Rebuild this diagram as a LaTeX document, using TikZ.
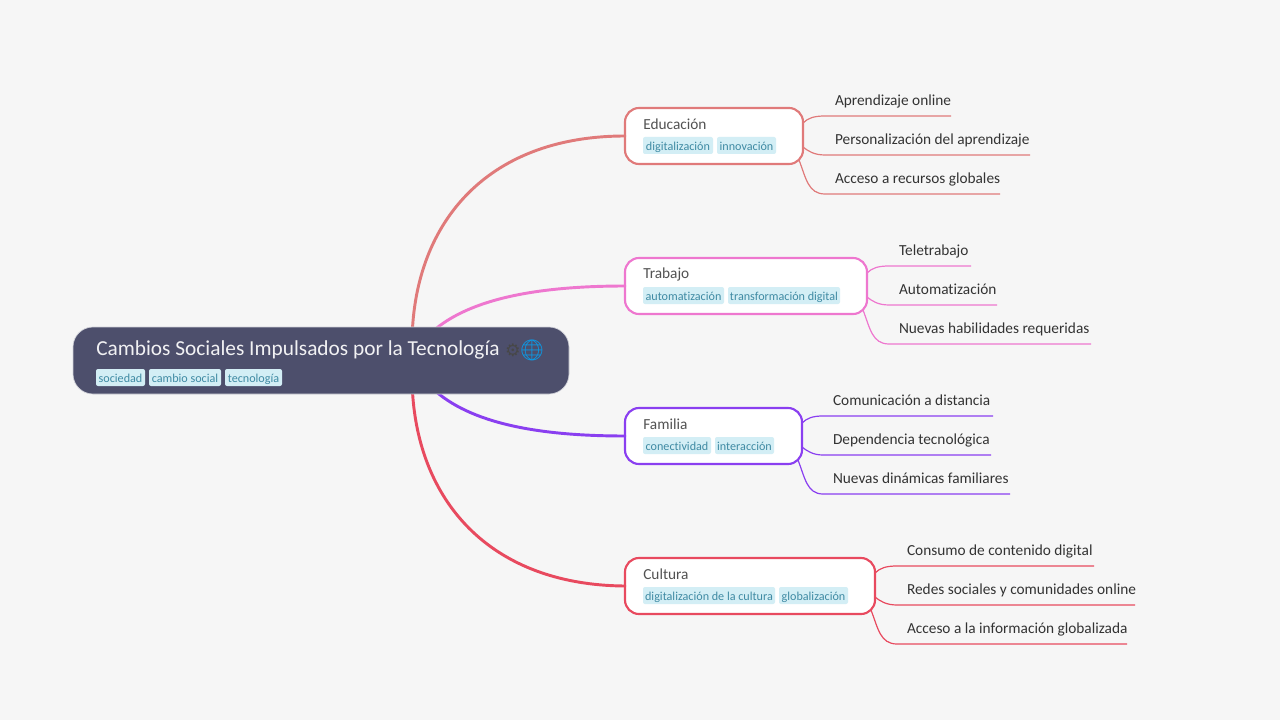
\documentclass[tikz,border=0pt]{standalone}
\usepackage{fontspec}
\setmainfont{Carlito}[Ligatures=NoCommon]
\newfontfamily\symfont{DejaVu Sans}
\newfontfamily\emojifont{Noto Emoji}
\usetikzlibrary{calc}
\definecolor{pagebg}{HTML}{F6F6F6}
\definecolor{rootfill}{HTML}{4D4F6C}
\definecolor{educol}{HTML}{E07A7A}
\definecolor{trabcol}{HTML}{EE77CF}
\definecolor{famcol}{HTML}{8A3FF0}
\definecolor{culcol}{HTML}{E84A5F}
\definecolor{tagfill}{HTML}{D3EEF5}
\definecolor{tagtext}{HTML}{3F8AA3}
\definecolor{globecol}{HTML}{0A9BE8}
\tikzset{
	rootbox/.style={draw=white!75!rootfill, line width=0.5pt, fill=rootfill, rounded corners=15pt, minimum width=372pt, minimum height=50.25pt, inner sep=0pt, outer sep=0pt, anchor=north west},
	topicbox/.style={draw=#1, line width=1.6pt, fill=white, rounded corners=10.5pt, minimum height=42pt, inner sep=0pt, outer sep=0pt, anchor=north west},
	topictext/.style={text=black!68, font=\fontsize{11.5pt}{13pt}\selectfont, inner sep=0pt, anchor=west},
	tagbox/.style={fill=tagfill, text=tagtext, font=\fontsize{9.1pt}{11pt}\selectfont, rounded corners=1.5pt, inner sep=0pt, outer sep=0pt, minimum height=12.75pt, text height=8pt, text depth=1.2pt, anchor=north west},
	leaftext/.style={text=black!80, font=\fontsize{11.5pt}{13pt}\selectfont, inner sep=0pt, inner xsep=7.5pt, outer sep=0pt, minimum height=21pt, text height=8pt, text depth=2.5pt, anchor=south west},
	mainlink/.style={line width=#1, line cap=round},
	leaflink/.style={line width=0.9pt}
}
% leaf: name, corner, width, text
\def\leaf[#1](#2)(#3)(#4)#5;{\node[leaftext] (#2) at (#3) {\makebox[\dimexpr#4pt-15pt\relax][l]{#5}};}
% link from a topic box to the underline of a leaf
\def\leaflink[#1](#2)(#3)(#4)(#5){\draw[leaflink, #1] (#2) .. controls (#3) and (#4) .. (#5.south west) -- (#5.south east);}
\begin{document}
\begin{tikzpicture}[x=0.75pt, y=-0.75pt]
	%%%%% START %%%%%
	\fill[pagebg] (0, 0) rectangle (1280, 720);
	\useasboundingbox (0, 0) rectangle (1280, 720);

	\coordinate (hubup) at (412, 345);
	\coordinate (hubdown) at (412, 375);
	\coordinate (trabout) at (432, 332);
	\coordinate (famout) at (432, 388);

	% topic boxes
	\node[topicbox=educol, minimum width=133.5pt] (edu) at (625, 108) {};
	\node[topicbox=trabcol, minimum width=181.5pt] (trab) at (625, 258) {};
	\node[topicbox=famcol, minimum width=132.75pt] (fam) at (625, 408) {};
	\node[topicbox=culcol, minimum width=187.5pt] (cul) at (625, 558) {};

	% main branches
	\draw[mainlink=2.2pt, educol] (hubup) .. controls (412, 225) and (485, 136) .. (edu.west);
	\draw[mainlink=2.2pt, trabcol] (trabout) .. controls (470, 298) and (540, 286) .. (trab.west);
	\draw[mainlink=2.2pt, famcol] (famout) .. controls (470, 424) and (540, 436) .. (fam.west);
	\draw[mainlink=2.2pt, culcol] (hubdown) .. controls (412, 495) and (485, 585) .. (cul.west);

	% root
	\node[rootbox] (root) at (73, 327) {};
	\node[text=white!92!rootfill, font=\fontsize{16pt}{18pt}\selectfont, inner sep=0pt, anchor=west] (roottitle) at (96, 350) {Cambios Sociales Impulsados por la Tecnología};
	\node[text=black!72, font=\symfont\fontsize{13pt}{15pt}\selectfont, inner sep=0pt] (rootgear) at (513, 350) {⚙};
	\node[text=globecol, font=\emojifont\fontsize{15.5pt}{18pt}\selectfont, inner sep=0pt] (rootglobe) at (532, 350) {🌐};
	\node[tagbox, minimum width=36.75pt] (tagsoc) at (96, 369) {sociedad};
	\node[tagbox, minimum width=54pt] (tagcam) at (149, 369) {cambio social};
	\node[tagbox, minimum width=42.75pt] (tagtec) at (225, 369) {tecnología};

	% educacion
	\node[topictext] (edutitle) at (643, 124) {Educación};
	\node[tagbox, minimum width=52.5pt] (edutag1) at (643, 137) {digitalización};
	\node[tagbox, minimum width=44.25pt] (edutag2) at (717, 137) {innovación};
	\leaf[](edu1)(825, 116)(94.5){Aprendizaje online};
	\leaf[](edu2)(825, 155)(153.75){Personalización del aprendizaje};
	\leaf[](edu3)(825, 194)(131.25){Acceso a recursos globales};
	\leaflink[educol](803, 123)(808, 118)(814, 116)(edu1)
	\leaflink[educol](803, 147)(808, 151)(814, 155)(edu2)
	\leaflink[educol](799, 160)(806, 178)(808, 194)(edu3)

	% trabajo
	\node[topictext] (trabtitle) at (643, 274) {Trabajo};
	\node[tagbox, minimum width=60.75pt] (trabtag1) at (643, 287) {automatización};
	\node[tagbox, minimum width=84pt] (trabtag2) at (728, 287) {transformación digital};
	\leaf[](trab1)(889, 266)(61.5){Teletrabajo};
	\leaf[](trab2)(889, 305)(81){Automatización};
	\leaf[](trab3)(889, 344)(151.5){Nuevas habilidades requeridas};
	\leaflink[trabcol](867, 273)(872, 268)(878, 266)(trab1)
	\leaflink[trabcol](867, 297)(872, 301)(878, 305)(trab2)
	\leaflink[trabcol](863, 310)(870, 328)(872, 344)(trab3)

	% familia
	\node[topictext] (famtitle) at (643, 424) {Familia};
	\node[tagbox, minimum width=51pt] (famtag1) at (643, 437) {conectividad};
	\node[tagbox, minimum width=44.25pt] (famtag2) at (715, 437) {interacción};
	\leaf[](fam1)(823, 416)(127.5){Comunicación a distancia};
	\leaf[](fam2)(823, 455)(126){Dependencia tecnológica};
	\leaf[](fam3)(823, 494)(140.25){Nuevas dinámicas familiares};
	\leaflink[famcol](802, 423)(807, 418)(813, 416)(fam1)
	\leaflink[famcol](802, 447)(807, 451)(813, 455)(fam2)
	\leaflink[famcol](798, 460)(805, 478)(807, 494)(fam3)

	% cultura
	\node[topictext] (cultitle) at (643, 574) {Cultura};
	\node[tagbox, minimum width=99pt] (cultag1) at (643, 587) {digitalización de la cultura};
	\node[tagbox, minimum width=51.75pt] (cultag2) at (779, 587) {globalización};
	\leaf[](cul1)(897, 566)(147.75){Consumo de contenido digital};
	\leaf[](cul2)(897, 605)(178.5){Redes sociales y comunidades online};
	\leaf[](cul3)(897, 644)(172.5){Acceso a la información globalizada};
	\leaflink[culcol](875, 573)(880, 568)(886, 566)(cul1)
	\leaflink[culcol](875, 597)(880, 601)(886, 605)(cul2)
	\leaflink[culcol](871, 610)(878, 628)(880, 644)(cul3)
	%%%%% END %%%%%
\end{tikzpicture}
\end{document}
